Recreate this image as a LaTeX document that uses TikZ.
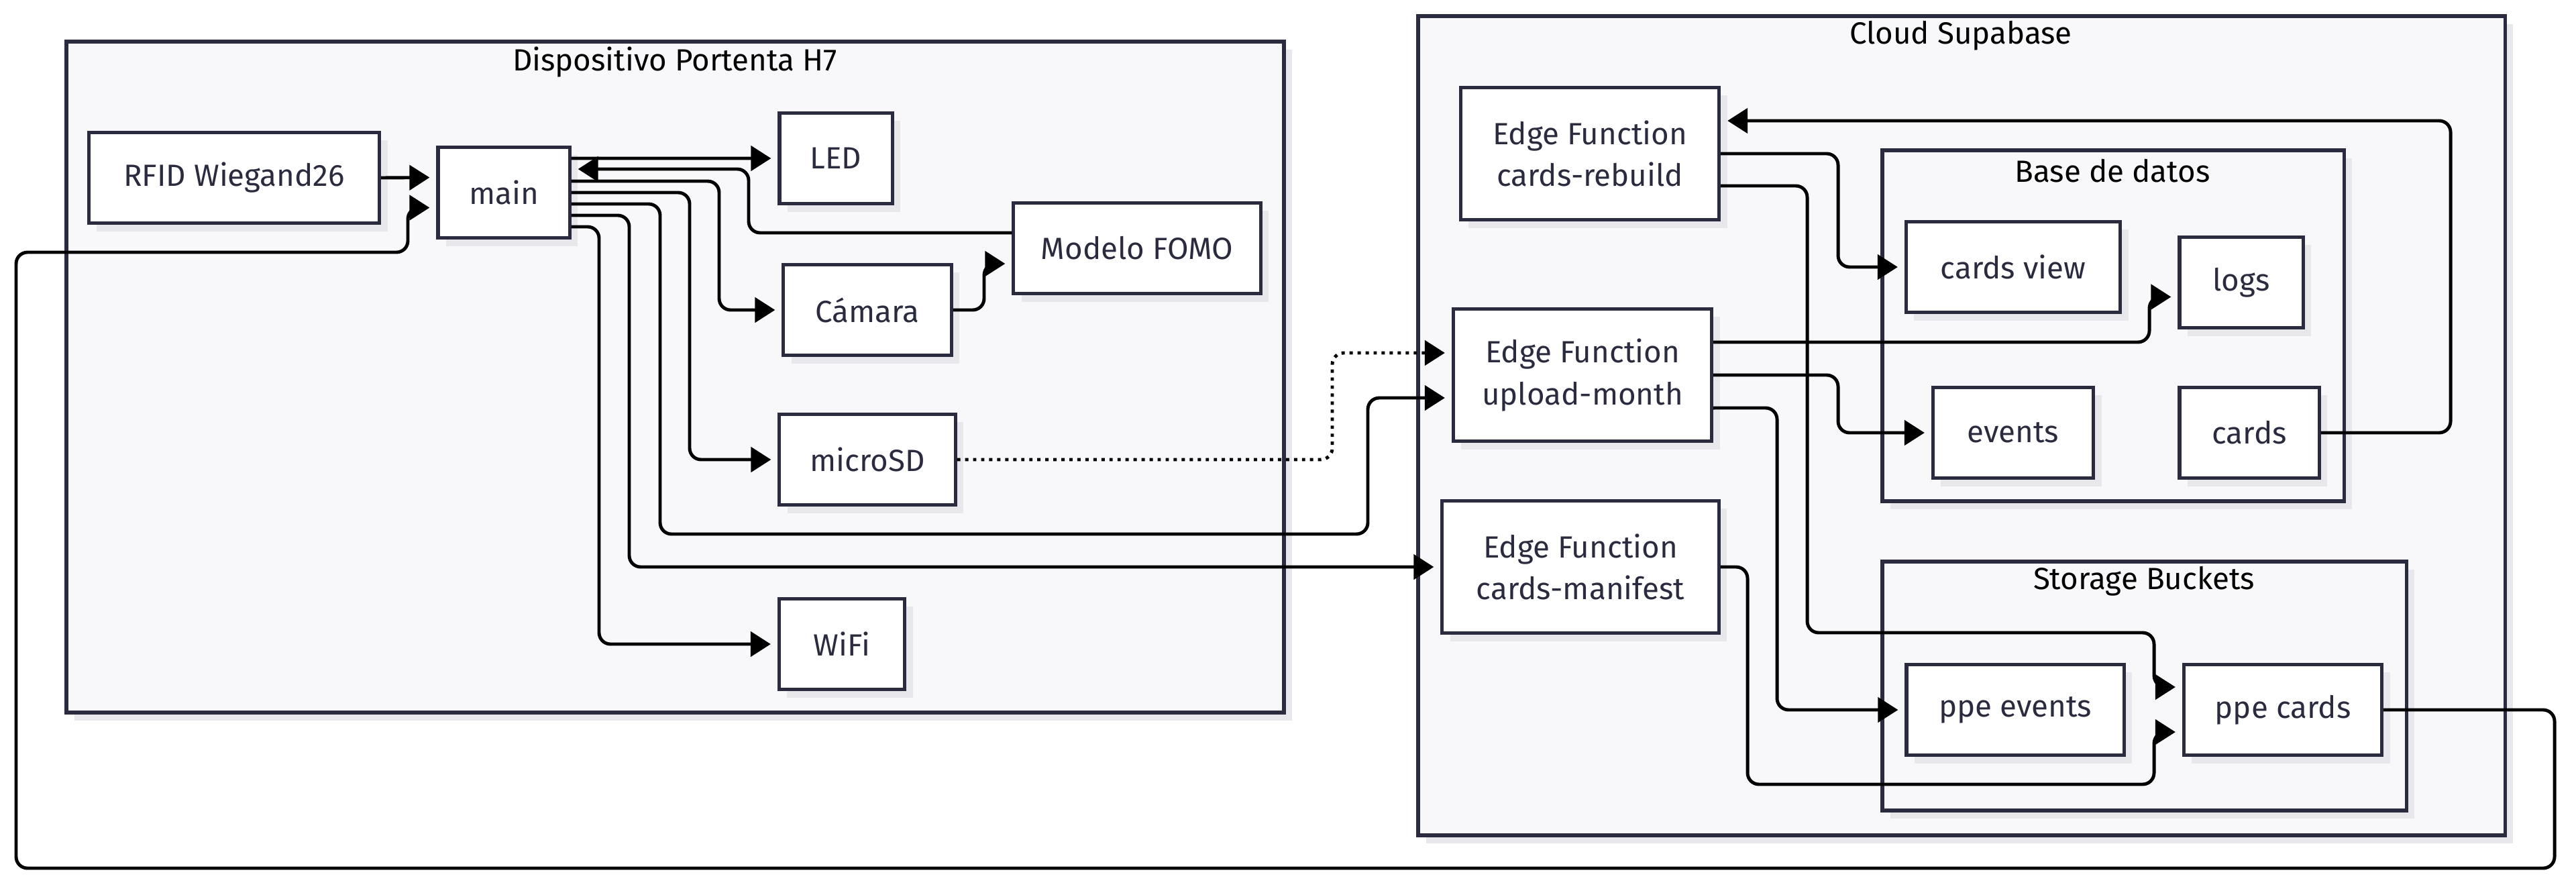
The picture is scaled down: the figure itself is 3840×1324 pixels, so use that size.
\documentclass[tikz,border=0pt]{standalone}
\usepackage{fontspec}
\setmainfont{Fira Sans}
\usepackage{tikz}
\usetikzlibrary{arrows.meta, positioning, shadows}
\definecolor{boxline}{HTML}{2B2B40}
\definecolor{clusterfill}{HTML}{F8F8FA}
\definecolor{shadowgray}{HTML}{E8E8EC}

\tikzset{
	box/.style={draw=boxline, line width=1.45pt, fill=white, text=boxline, inner sep=0pt,
		minimum height=1.35cm, align=center, font=\fontsize{13}{17.8}\selectfont,
		drop shadow={shadow xshift=0.12cm, shadow yshift=-0.12cm, fill=shadowgray, opacity=1}},
	box2/.style={box, minimum height=1.97cm},
	cluster/.style={draw=boxline, line width=1.45pt, fill=clusterfill,
		drop shadow={shadow xshift=0.12cm, shadow yshift=-0.12cm, fill=shadowgray, opacity=1}},
	clustertitle/.style={font=\fontsize{13}{17.8}\selectfont, text=black, inner sep=0pt},
	flow/.style={draw=black, line width=1.4pt, rounded corners=0.17cm,
		-{Triangle[length=0.3cm, width=0.37cm]}, shorten >=0.1cm},
	dots/.style={flow, dash pattern=on 1.4pt off 2pt},
}

\begin{document}
\begin{tikzpicture}[x=0.01cm, y=-0.01cm]
	\useasboundingbox (0,0) rectangle (3840,1324);

	% clusters
	\draw[cluster] (99,62) rectangle (1914,1062);
	\node[clustertitle] (tDisp) at (1006,93) {Dispositivo Portenta H7};
	\draw[cluster] (2114,24) rectangle (3734,1245);
	\node[clustertitle] (tCloud) at (2923,53) {Cloud Supabase};
	\draw[cluster] (2806,224) rectangle (3494,747);
	\node[clustertitle] (tBase) at (3149,255) {Base de datos};
	\draw[cluster] (2806,837) rectangle (3587,1208);
	\node[clustertitle] (tStore) at (3196,866) {Storage Buckets};

	% device
	\node[box, minimum width=4.33cm] (rfid) at (349,265) {RFID Wiegand26};
	\node[box, minimum width=1.96cm] (main) at (751,287) {main};
	\node[box, minimum width=1.68cm] (led) at (1246,236) {LED};
	\node[box, minimum width=2.50cm] (camara) at (1293,462) {Cámara};
	\node[box, minimum width=3.68cm] (fomo) at (1695,370) {Modelo FOMO};
	\node[box, minimum width=2.62cm] (microsd) at (1293,685) {microSD};
	\node[box, minimum width=1.87cm] (wifi) at (1255,960) {WiFi};

	% cloud
	\node[box2, minimum width=3.85cm] (rebuild) at (2370,229) {Edge Function\\cards-rebuild};
	\node[box2, minimum width=3.85cm] (upload) at (2359,559) {Edge Function\\upload-month};
	\node[box2, minimum width=4.12cm] (manifest) at (2356,845) {Edge Function\\cards-manifest};
	\node[box, minimum width=3.19cm] (cardsview) at (3001,398) {cards view};
	\node[box, minimum width=1.84cm] (logs) at (3341,421) {logs};
	\node[box, minimum width=2.39cm] (events) at (3001,645) {events};
	\node[box, minimum width=2.08cm] (cards) at (3353,645) {cards};
	\node[box, minimum width=3.24cm] (ppeevents) at (3004,1058) {ppe events};
	\node[box, minimum width=2.95cm] (ppecards) at (3403,1058) {ppe cards};

	% connectors
	\draw[flow] (rfid.east) -- ([yshift=0.225cm]main.west);
	\draw[flow] ([yshift=0.51cm]main.east) -- (led.west);
	\draw[flow] ([yshift=0.23cm]fomo.west) -- (1116,347) |- ([yshift=0.35cm]main.east);
	\draw[flow] ([yshift=0.17cm]main.east) -- (1072,270) |- (camara.west);
	\draw[flow] (camara.east) -- (1467,462) |- ([yshift=-0.23cm]fomo.west);
	\draw[flow] (main.east) -- (1028,287) |- (microsd.west);
	\draw[flow] ([yshift=-0.17cm]main.east) -- (984,304) |- (2039,796) |- ([yshift=-0.34cm]upload.west);
	\draw[flow] ([yshift=-0.34cm]main.east) -- (938,321) |- (manifest.west);
	\draw[flow] ([yshift=-0.51cm]main.east) -- (893,338) |- (wifi.west);
	\draw[dots] (microsd.east) -- (1986,685) |- ([yshift=0.33cm]upload.west);

	\draw[flow] (cards.east) -- (3653,645) |- ([yshift=0.49cm]rebuild.east);
	\draw[flow] (rebuild.east) -- (2740,229) |- (cardsview.west);
	\draw[flow] ([yshift=-0.48cm]rebuild.east) -- (2694,277) |- (3211,943) |- ([yshift=0.34cm]ppecards.west);
	\draw[flow] ([yshift=0.49cm]upload.east) -- (3204,510) |- ([yshift=-0.215cm]logs.west);
	\draw[flow] (upload.east) -- (2740,559) |- (events.west);
	\draw[flow] ([yshift=-0.49cm]upload.east) -- (2649,608) |- (ppeevents.west);
	\draw[flow] (manifest.east) -- (2605,845) |- (3211,1169) |- ([yshift=-0.33cm]ppecards.west);
	\draw[flow] (ppecards.east) -- (3808,1058) |- (24,1294) |- (608,376) |- ([yshift=-0.225cm]main.west);
\end{tikzpicture}
\end{document}
